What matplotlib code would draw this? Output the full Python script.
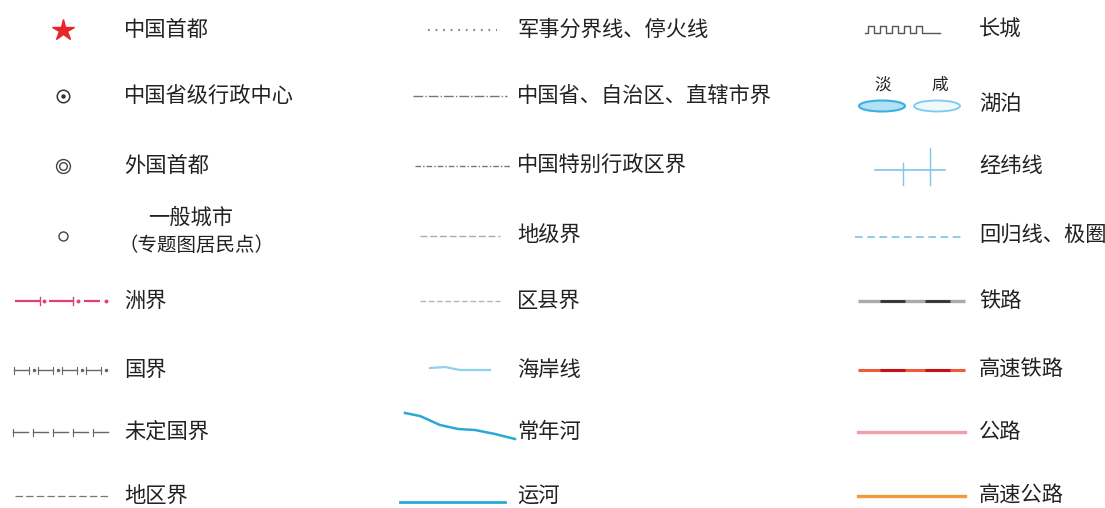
import matplotlib
matplotlib.use("Agg")
import matplotlib.pyplot as plt
import numpy as np
from matplotlib.patches import Ellipse

plt.rcParams['font.family'] = ['Noto Sans CJK SC', 'DejaVu Sans']

# ---- legend content ----
col1_labels = ["中国首都", "中国省级行政中心", "外国首都", "一般城市", "洲界", "国界", "未定国界", "地区界"]
col1_sub = "（专题图居民点）"
col2_labels = ["军事分界线、停火线", "中国省、自治区、直辖市界", "中国特别行政区界", "地级界",
               "区县界", "海岸线", "常年河", "运河"]
col3_labels = ["长城", "湖泊", "经纬线", "回归线、极圈", "铁路", "高速铁路", "公路", "高速公路"]
lake_labels = ["淡", "咸"]
row_y = [30, 96, 166, 236, 301, 370, 432, 496]

TXT = "#222222"
FS = 15.3

fig = plt.figure(figsize=(11.05, 5.08), dpi=100)
ax = fig.add_axes([0, 0, 1, 1])
ax.set_xlim(0, 1105)
ax.set_ylim(508, 0)
ax.axis("off")

def txt(x, y, s, **kw):
    kw.setdefault("fontsize", FS)
    kw.setdefault("color", TXT)
    kw.setdefault("fontweight", "medium")
    ax.text(x, y, s, va="center", ha=kw.pop("ha", "left"), **kw)

# ---------- column 1 ----------
x1 = 63
ax.plot([x1], [row_y[0]], marker="*", color="#e8262a", markersize=16, mec="#e8262a")
ax.plot([x1], [row_y[1]], marker="o", mfc="none", mec="#333333", markersize=9, mew=1.1)
ax.plot([x1], [row_y[1]], marker="o", color="#333333", markersize=2.2)
ax.plot([x1], [row_y[2]], marker="o", mfc="none", mec="#444444", markersize=10, mew=1.0)
ax.plot([x1], [row_y[2]], marker="o", mfc="none", mec="#444444", markersize=5.5, mew=1.0)
ax.plot([x1], [row_y[3]], marker="o", mfc="none", mec="#444444", markersize=6.5, mew=1.0)

for i, lab in enumerate(col1_labels):
    if i == 3:
        txt(148, 218, lab)
        txt(118, 245, col1_sub, fontsize=14)
    else:
        txt(124, row_y[i], lab)

# 洲界: magenta dash / tick / dot pattern
y = row_y[4]
mag = "#e0407a"
for a, b in [(15, 40), (49, 73), (84, 100)]:
    ax.plot([a, b], [y, y], color=mag, lw=1.6, solid_capstyle="butt")
for t in [40, 73]:
    ax.plot([t, t], [y - 4, y + 4], color=mag, lw=1.0)
for d in [44, 78, 106]:
    ax.plot([d], [y], marker="o", color=mag, markersize=1.8)

# 国界
y = row_y[5]
g = "#666666"
for a in [14, 38, 62, 86]:
    ax.plot([a, a + 15], [y, y], color=g, lw=1.0)
    ax.plot([a, a], [y - 3.5, y + 3.5], color=g, lw=0.8)
    ax.plot([a + 15, a + 15], [y - 3.5, y + 3.5], color=g, lw=0.8)
    ax.plot([a + 19.5], [y], marker="o", color=g, markersize=1.5)

# 未定国界
y = row_y[6]
for a in [13, 33, 53, 73, 93]:
    ax.plot([a, a + 15], [y, y], color=g, lw=1.0)
    ax.plot([a, a], [y - 3.5, y + 3.5], color=g, lw=0.8)

# 地区界
y = row_y[7]
ax.plot([15, 108], [y, y], color="#777777", lw=0.9, dashes=(6, 2.5))

# ---------- column 2 ----------
x2t = 517
for i, lab in enumerate(col2_labels):
    txt(x2t, row_y[i], lab)

ax.plot([428, 497], [row_y[0], row_y[0]], color="#888888", lw=1.6, dashes=(0.8, 2.6))
ax.plot([413, 507], [row_y[1], row_y[1]], color="#777777", lw=1.0, dashes=(7, 1.5, 1, 1.5))
ax.plot([415, 510], [row_y[2], row_y[2]], color="#777777", lw=1.0, dashes=(4, 1.5, 1, 1.5))
ax.plot([420, 500], [row_y[3], row_y[3]], color="#b8a8a0", lw=1.0, dashes=(5, 2))
ax.plot([420, 500], [row_y[4], row_y[4]], color="#c0b4ac", lw=1.0, dashes=(4, 2))
ax.plot([430, 445, 460, 490], [368, 367, 370, 370], color="#8fd0ec", lw=1.6)
rx = [405, 420, 440, 458, 475, 495, 515]
ry = [413, 416, 425, 429, 430, 434, 439]
ax.plot(rx, ry, color="#2aa8d8", lw=1.8)
ax.plot([400, 505], [502, 502], color="#2aa8d8", lw=2.0)

# ---------- column 3 ----------
x3t = 979
for i, lab in enumerate(col3_labels):
    txt(x3t, row_y[i] if i != 1 else 104, lab)

# 长城
y0 = row_y[0] + 3
pts_x, pts_y = [865], [y0]
x = 868
pts_x.append(x); pts_y.append(y0)
while x < 928:
    pts_x += [x, x, x + 6, x + 6, x + 12]
    pts_y += [y0, y0 - 7, y0 - 7, y0, y0]
    x += 12
pts_x.append(940); pts_y.append(y0)
ax.plot(pts_x, pts_y, color="#555555", lw=1.0)

# 湖泊
txt(883, 85, lake_labels[0], ha="center", fontsize=12, fontweight="normal")
txt(940, 85, lake_labels[1], ha="center", fontsize=12, fontweight="normal")
ax.add_patch(Ellipse((882, 106), 46, 11, facecolor="#b4e0f4", edgecolor="#3ab0e0", lw=1.5))
ax.add_patch(Ellipse((937, 106), 46, 11, facecolor="#eef8fd", edgecolor="#7ccaec", lw=1.3))

# 经纬线
ax.plot([875, 945], [170, 170], color="#7fc6ea", lw=1.2)
ax.plot([903, 903], [163, 185], color="#7fc6ea", lw=1.0)
ax.plot([930, 930], [148, 185], color="#7fc6ea", lw=1.0)

# 回归线、极圈
ax.plot([855, 965], [237, 237], color="#6cc0e6", lw=1.1, dashes=(5, 3))

# 铁路
y = row_y[4]
ax.plot([858, 965], [y, y], color="#aaaaaa", lw=2.4, solid_capstyle="butt")
for a, b in [(880, 905), (925, 950)]:
    ax.plot([a, b], [y, y], color="#333333", lw=2.0, solid_capstyle="butt")

# 高速铁路
y = row_y[5]
ax.plot([858, 965], [y, y], color="#ef5a3c", lw=2.2, solid_capstyle="butt")
for a, b in [(880, 905), (925, 950)]:
    ax.plot([a, b], [y, y], color="#c4101c", lw=2.2, solid_capstyle="butt")

# 公路
ax.plot([858, 965], [row_y[6], row_y[6]], color="#f2a0a8", lw=2.4)
# 高速公路
ax.plot([858, 965], [row_y[7], row_y[7]], color="#f59a3a", lw=2.4)

fig.savefig("out.png", dpi=100, facecolor="white")
